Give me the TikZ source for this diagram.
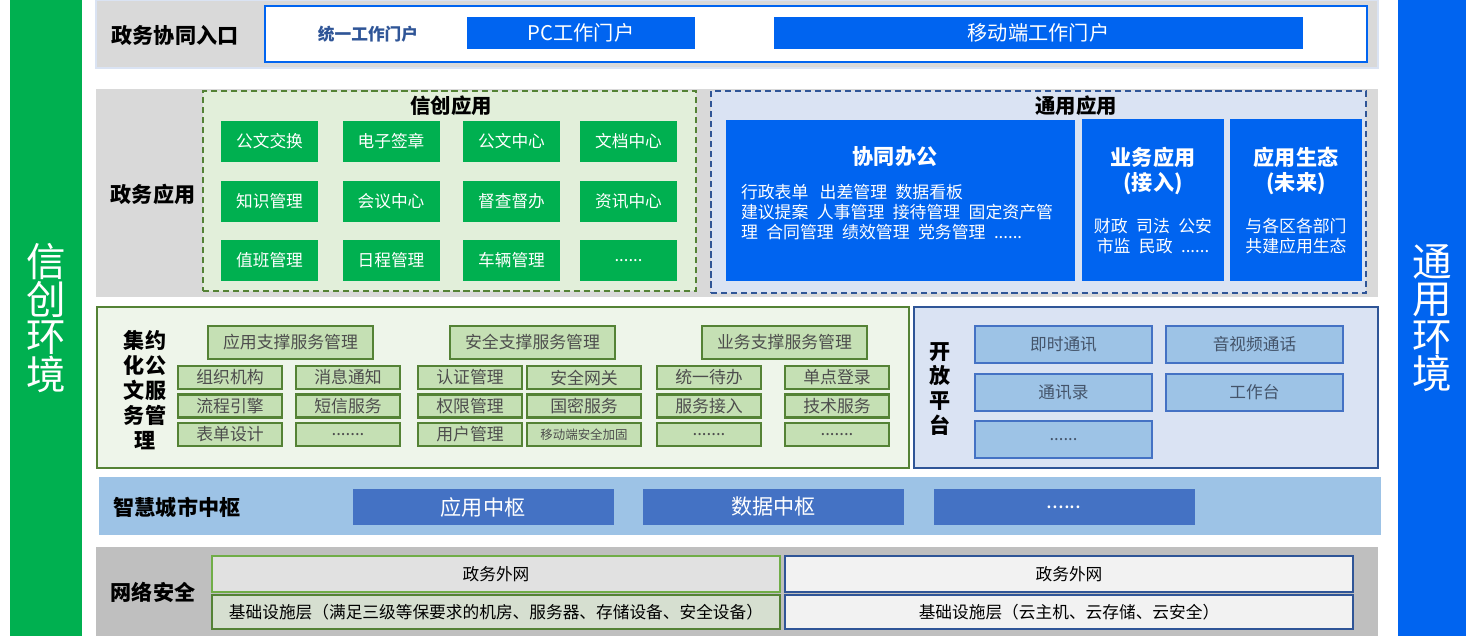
\documentclass[tikz,border=0pt]{standalone}
\usepackage{fontspec}
\setmainfont{Noto Sans CJK SC}
\definecolor{xcgreen}{HTML}{00B050}
\definecolor{tyblue}{HTML}{0064F0}
\definecolor{laygray}{HTML}{D9D9D9}
\definecolor{netgray}{HTML}{BFBFBF}
\definecolor{lgreen}{HTML}{E2EFDA}
\definecolor{mgreen}{HTML}{C5E0B4}
\definecolor{dgreen}{HTML}{548235}
\definecolor{bgreen}{HTML}{70AD47}
\definecolor{pgreen}{HTML}{EEF5EA}
\definecolor{lblue}{HTML}{DAE3F3}
\definecolor{mblue}{HTML}{9DC3E6}
\definecolor{sblue}{HTML}{4472C4}
\definecolor{dblue}{HTML}{2F5597}
\definecolor{gtext}{HTML}{44546A}
\definecolor{btext}{HTML}{4D4D4D}
\definecolor{infgreen}{HTML}{D6DFD0}
\definecolor{netfill}{HTML}{F2F2F2}

\begin{document}
\begin{tikzpicture}[x=0.02cm, y=-0.02cm,
    every node/.style={inner sep=0pt, outer sep=0pt},
    sz/.style 2 args={minimum width=#1*0.02cm, minimum height=#2*0.02cm},
    sidebar/.style={text=white, align=center, font=\fontsize{22.5}{21.3}\selectfont},
    lab/.style={align=center, font=\fontsize{12}{14.2}\selectfont\bfseries},
    apptitle/.style={font=\fontsize{11.6}{13}\selectfont\bfseries},
    dashbox/.style={line width=1.1pt, dash pattern=on 3.5pt off 2.2pt},
    portalbox/.style={fill=tyblue, text=white, font=\fontsize{11.5}{13}\selectfont},
    gbox/.style={fill=xcgreen, text=white, sz={97}{41}, font=\fontsize{9.5}{11}\selectfont},
    bbox/.style={fill=tyblue},
    btitle/.style={text=white, align=center, font=\fontsize{12}{14.7}\selectfont\bfseries},
    bline/.style={text=white, align=center, font=\fontsize{9.6}{11.3}\selectfont},
    mbox/.style={fill=mgreen, draw=dgreen, line width=1.2pt, text=btext, sz={165}{33}, font=\fontsize{9.6}{11}\selectfont},
    sbox/.style={fill=mgreen, draw=dgreen, line width=1.2pt, text=btext, sz={104}{23}, font=\fontsize{9.6}{11}\selectfont},
    obox/.style={fill=mblue, draw=sblue, line width=1.2pt, text=gtext, sz={177}{37}, font=\fontsize{9.5}{11}\selectfont},
    hubbox/.style={fill=sblue, text=white, sz={261}{36}, font=\fontsize{12}{13}\selectfont},
    netbox/.style={line width=1.2pt, sz={568}{36}, font=\fontsize{9.5}{11}\selectfont}]
\useasboundingbox (0,0) rectangle (1468,636);

% side bars
\node[sidebar, fill=xcgreen, sz={72}{636}] (xcenv) at (46,318) {信\\创\\环\\境};
\node[sidebar, fill=tyblue, sz={68}{636}] (tyenv) at (1432,318) {通\\用\\环\\境};

% entry
\node[fill=laygray, draw=lblue, line width=1.1pt, sz={1282}{68}] (entry) at (737,34) {};
\node[lab] (entrylab) at (175,35) {政务协同入口};
\node[fill=white, draw=tyblue, line width=1.4pt, sz={1102}{56}] (portal) at (816,34) {};
\node[text=dblue, font=\fontsize{9.5}{11}\selectfont\bfseries] (unified) at (368,34) {统一工作门户};
\node[portalbox, sz={228}{32}] (pc) at (581,33) {PC工作门户};
\node[portalbox, sz={529}{32}] (mobile) at (1038.5,33) {移动端工作门户};

% government apps
\node[fill=laygray, sz={1282}{208}] (govapp) at (737,193) {};
\node[lab] (govlab) at (153,194) {政务应用};
\node[fill=lgreen, draw=dgreen, dashbox, sz={493}{200}] (xcapp) at (449.5,191) {};
\node[apptitle] (xctitle) at (451,106) {信创应用};
\node[gbox] (g11) at (269.5,141.5) {公文交换};
\node[gbox] (g12) at (391,141.5) {电子签章};
\node[gbox] (g13) at (511.5,141.5) {公文中心};
\node[gbox] (g14) at (628.5,141.5) {文档中心};
\node[gbox] (g21) at (269.5,201.5) {知识管理};
\node[gbox] (g22) at (391,201.5) {会议中心};
\node[gbox] (g23) at (511.5,201.5) {督查督办};
\node[gbox] (g24) at (628.5,201.5) {资讯中心};
\node[gbox] (g31) at (269.5,260.5) {值班管理};
\node[gbox] (g32) at (391,260.5) {日程管理};
\node[gbox] (g33) at (511.5,260.5) {车辆管理};
\node[gbox] (g34) at (628.5,260.5) {......};

\node[fill=lblue, draw=dblue, dashbox, sz={655}{202}] (tyapp) at (1038.5,192) {};
\node[apptitle] (tytitle) at (1076,106) {通用应用};
\node[bbox, sz={349}{161}] (office) at (900.5,200.5) {};
\node[btitle] (officet) at (895,157) {协同办公};
\node[bline, anchor=west, align=left] (officel) at (741,212) {行政表单\enspace\,出差管理\enspace 数据看板\\建议提案\enspace 人事管理\enspace 接待管理\enspace 固定资产管\\理\enspace 合同管理\enspace 绩效管理\enspace 党务管理\enspace ......};
\node[bbox, sz={142}{162}] (bizapp) at (1153,200) {};
\node[btitle] (bizt) at (1153,171) {业务应用\\(接入)};
\node[bline] (bizl) at (1153,236) {财政\enspace 司法\enspace 公安\\市监\enspace 民政\enspace ......};
\node[bbox, sz={132}{162}] (eco) at (1296,200) {};
\node[btitle] (ecot) at (1296,171) {应用生态\\(未来)};
\node[bline] (ecol) at (1296,236) {与各区各部门\\共建应用生态};

% document services
\node[fill=pgreen, draw=dgreen, line width=1.2pt, sz={812}{161}] (docsvc) at (503,387.5) {};
\node[lab] (doclab) at (145,390) {集约\\化公\\文服\\务管\\理};
\node[mbox] (appsup) at (290.5,342.5) {应用支撑服务管理};
\node[mbox] (secsup) at (532.5,342.5) {安全支撑服务管理};
\node[mbox] (bizsup) at (784.5,342.5) {业务支撑服务管理};
\node[sbox] (s11) at (230,377.5) {组织机构};
\node[sbox] (s21) at (230,406) {流程引擎};
\node[sbox] (s31) at (230,434.5) {表单设计};
\node[sbox] (s12) at (348,377.5) {消息通知};
\node[sbox] (s22) at (348,406) {短信服务};
\node[sbox] (s32) at (348,434.5) {.......};
\node[sbox] (s13) at (470,377.5) {认证管理};
\node[sbox] (s23) at (470,406) {权限管理};
\node[sbox] (s33) at (470,434.5) {用户管理};
\node[sbox, sz={114}{23}] (s14) at (584,377.5) {安全网关};
\node[sbox, sz={114}{23}] (s24) at (584,406) {国密服务};
\node[sbox, sz={114}{23}, font=\fontsize{7.1}{8}\selectfont] (s34) at (584,434.5) {移动端安全加固};
\node[sbox] (s15) at (709,377.5) {统一待办};
\node[sbox] (s25) at (709,406) {服务接入};
\node[sbox] (s35) at (709,434.5) {.......};
\node[sbox] (s16) at (837,377.5) {单点登录};
\node[sbox] (s26) at (837,406) {技术服务};
\node[sbox] (s36) at (837,434.5) {.......};

% open platform
\node[fill=lblue, draw=dblue, line width=1.2pt, sz={464}{161}] (openplat) at (1146,387.5) {};
\node[lab] (openlab) at (940,389) {开\\放\\平\\台};
\node[obox] (im) at (1063.5,344.5) {即时通讯};
\node[obox] (av) at (1254.5,344.5) {音视频通话};
\node[obox] (contacts) at (1063.5,392.5) {通讯录};
\node[obox] (desk) at (1254.5,392.5) {工作台};
\node[obox] (omore) at (1063.5,439.5) {......};

% city hub
\node[fill=mblue, sz={1282}{58}] (hub) at (740,506) {};
\node[lab] (hublab) at (177,507) {智慧城市中枢};
\node[hubbox] (apphub) at (483,507) {应用中枢};
\node[hubbox] (datahub) at (773.5,507) {数据中枢};
\node[hubbox] (morehub) at (1064,507) {......};

% network security
\node[fill=netgray, sz={1282}{89}] (net) at (737,591.5) {};
\node[lab] (netlab) at (153,592) {网络安全};
\node[netbox, fill={rgb,255:red,225;green,225;blue,225}, draw=bgreen] (xcnet) at (496,574) {政务外网};
\node[netbox, fill=infgreen, draw=dgreen, sz={568}{34}] (xcinfra) at (496,612) {基础设施层（满足三级等保要求的机房、服务器、存储设备、安全设备）};
\node[netbox, fill=netfill, draw=dblue] (tynet) at (1069,574) {政务外网};
\node[netbox, fill=netfill, draw=dblue, sz={568}{34}] (tyinfra) at (1069,612) {基础设施层（云主机、云存储、云安全）};
\end{tikzpicture}
\end{document}
